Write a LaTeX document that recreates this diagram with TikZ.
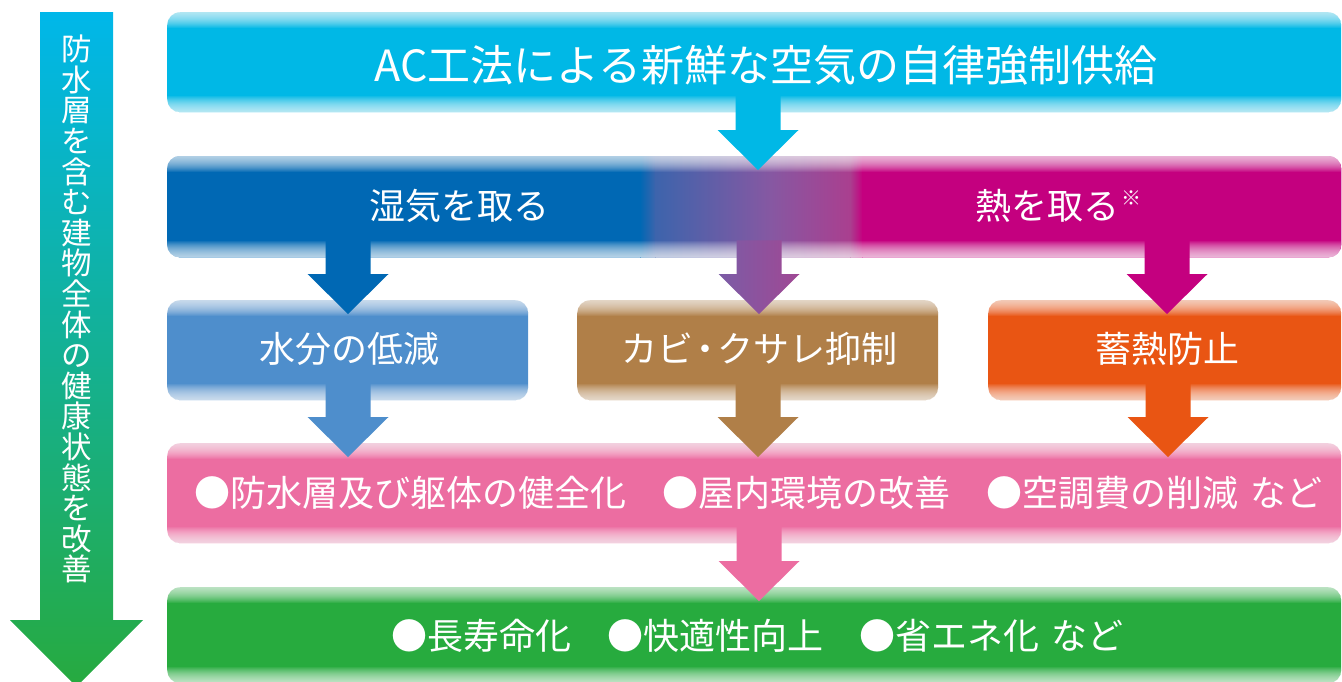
\documentclass[tikz,border=0pt]{standalone}
\usepackage{fontspec}
\setmainfont{Noto Sans CJK JP}
\usetikzlibrary{calc}
\definecolor{cyanC}{HTML}{00B8E6}
\definecolor{blueD}{HTML}{0068B4}
\definecolor{magC}{HTML}{C4007F}
\definecolor{pmA}{HTML}{3D64AC}
\definecolor{pmB}{HTML}{8658A2}
\definecolor{pmC}{HTML}{AA3F8F}
\definecolor{lblue}{HTML}{4E8ECC}
\definecolor{brownC}{HTML}{B07F48}
\definecolor{orangeC}{HTML}{E95513}
\definecolor{pinkC}{HTML}{EC6DA1}
\definecolor{greenC}{HTML}{27AB3E}
\definecolor{purpA}{HTML}{7B5CA6}
\definecolor{purpB}{HTML}{A04894}
\definecolor{arrTop}{HTML}{00B7EA}
\definecolor{arrBot}{HTML}{27AA3F}
\newcommand\fsz[1]{\fontsize{#1}{#1}\selectfont}
\tikzset{
  panel/.style={rectangle, rounded corners=13pt, inner sep=0pt, anchor=north west},
  lbl/.style={text=white, inner sep=0pt, anchor=base},
}
\newcommand\glossbox[1]{%
  \begin{scope}
    \clip[rounded corners=13pt] (#1.south west) rectangle (#1.north east);
    \foreach \i in {1,...,16}{%
      \fill[white,opacity=0.075] (#1.north west) rectangle ($(#1.north east)+(0,\i)$);
      \fill[white,opacity=0.075] (#1.south west) rectangle ($(#1.south east)+(0,-\i)$);
    }
  \end{scope}}
\newcommand\blockarrow[4]{%
  \coordinate (bx) at (#4,0);
  \path (#2.south -| bx) ++(0,-17) coordinate (bs);
  \path (#3.north -| bx) ++(0,14) coordinate (bt);
  \path[#1] ($(bs)+(-22.5,0)$) -- ($(bt)+(-22.5,-40)$) -- ($(bt)+(-40.5,-40)$) -- (bt)
    -- ($(bt)+(40.5,-40)$) -- ($(bt)+(22.5,-40)$) -- ($(bs)+(22.5,0)$) -- cycle;}
\begin{document}
\begin{tikzpicture}[x=1pt,y=-1pt]
\useasboundingbox (0,0) rectangle (1342,681);
% left long arrow
\shade[top color=arrTop, bottom color=arrBot] (40,12) -- (113,12) -- (113,620) -- (143,620)
  -- (76.5,686.5) -- (10,620) -- (40,620) -- cycle;
% panels
\node[panel, fill=cyanC, minimum width=1174pt, minimum height=100pt] (top) at (167,12) {};
\node[panel, minimum width=1174pt, minimum height=101pt] (mid) at (167,156) {};
\node[panel, fill=lblue, minimum width=361pt, minimum height=100pt] (box1) at (167,300) {};
\node[panel, fill=brownC, minimum width=361pt, minimum height=100pt] (box2) at (577,300) {};
\node[panel, fill=orangeC, minimum width=353pt, minimum height=100pt] (box3) at (988,300) {};
\node[panel, fill=pinkC, minimum width=1174pt, minimum height=100pt] (pinkbar) at (167,443) {};
\node[panel, fill=greenC, minimum width=1174pt, minimum height=96pt] (greenbar) at (167,587) {};
% gradient bar
\begin{scope}
  \clip[rounded corners=13pt] (mid.south west) rectangle (mid.north east);
  \fill[blueD] (160,150) rectangle (640.5,265);
  \shade[left color=blueD, right color=pmA] (640,150) rectangle (655.5,265);
  \shade[left color=pmA, right color=pmB] (655,150) rectangle (770.5,265);
  \shade[left color=pmB, right color=pmC] (770,150) rectangle (850.5,265);
  \shade[left color=pmC, right color=magC] (850,150) rectangle (862.5,265);
  \fill[magC] (862,150) rectangle (1350,265);
\end{scope}
\glossbox{top}\glossbox{mid}\glossbox{box1}\glossbox{box2}\glossbox{box3}\glossbox{pinkbar}\glossbox{greenbar}
% arrows
\blockarrow{fill=cyanC}{top}{mid}{758}
\blockarrow{fill=blueD}{mid}{box1}{348}
\blockarrow{left color=purpA, right color=purpB}{mid}{box2}{759}
\blockarrow{fill=magC}{mid}{box3}{1167}
\blockarrow{fill=lblue}{box1}{pinkbar}{348}
\blockarrow{fill=brownC}{box2}{pinkbar}{758}
\blockarrow{fill=orangeC}{box3}{pinkbar}{1168}
\blockarrow{fill=pinkC}{pinkbar}{greenbar}{759}
% texts
\node[lbl, font=\fsz{43}] (ttop) at (766,81) {AC工法による新鮮な空気の自律強制供給};
\node[lbl, font=\fsz{36}] (tdamp) at (459,219) {湿気を取る};
\node[lbl, font=\fsz{36}, anchor=base west] (theat) at (975,219) {熱を取る\hspace{2pt}\raisebox{14pt}{\fsz{20}※}};
\node[lbl, font=\fsz{36}] (t1) at (349,362) {水分の低減};
\node[lbl, font=\fsz{36}] (t2) at (759,362) {カビ\hspace{-6pt}・\hspace{-6pt}クサレ抑制};
\node[lbl, font=\fsz{36}] (t3) at (1167,362) {蓄熱防止};
\node[lbl, font=\fsz{36}, anchor=base west] (tp) at (194,506) {●防水層及び躯体の健全化　●屋内環境の改善　●空調費の削減\hspace{12pt}など};
\node[lbl, font=\fsz{36}, anchor=base west] (tg) at (391,649) {●長寿命化　●快適性向上　●省エネ化\hspace{12pt}など};
\foreach \c [count=\i from 0] in {防,水,層,を,含,む,建,物,全,体,の,健,康,状,態,を,改,善}{
  \node[lbl, font=\fsz{30.5}] (v\i) at (76.5,{60.6+30.6*\i}) {\c};
}
\end{tikzpicture}
\end{document}
